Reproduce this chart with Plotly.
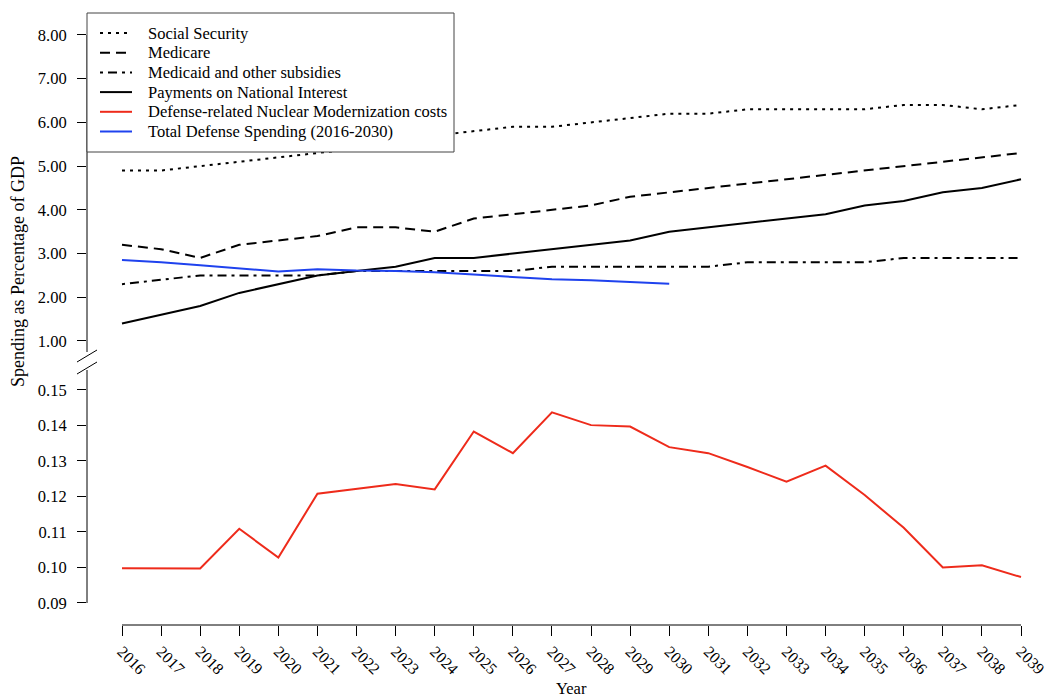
import plotly.graph_objects as go

years = list(range(2016, 2040))
defense_years = list(range(2016, 2031))

social_security = [4.9, 4.9, 5.0, 5.1, 5.2, 5.3, 5.4, 5.5, 5.7, 5.8, 5.9, 5.9,
                   6.0, 6.1, 6.2, 6.2, 6.3, 6.3, 6.3, 6.3, 6.4, 6.4, 6.3, 6.4]
medicare = [3.2, 3.1, 2.9, 3.2, 3.3, 3.4, 3.6, 3.6, 3.5, 3.8, 3.9, 4.0,
            4.1, 4.3, 4.4, 4.5, 4.6, 4.7, 4.8, 4.9, 5.0, 5.1, 5.2, 5.3]
medicaid = [2.3, 2.4, 2.5, 2.5, 2.5, 2.5, 2.6, 2.6, 2.6, 2.6, 2.6, 2.7,
            2.7, 2.7, 2.7, 2.7, 2.8, 2.8, 2.8, 2.8, 2.9, 2.9, 2.9, 2.9]
interest = [1.4, 1.6, 1.8, 2.1, 2.3, 2.5, 2.6, 2.7, 2.9, 2.9, 3.0, 3.1,
            3.2, 3.3, 3.5, 3.6, 3.7, 3.8, 3.9, 4.1, 4.2, 4.4, 4.5, 4.7]
nuclear = [0.0998, 0.0998, 0.0997, 0.1109, 0.1028, 0.1208, 0.1221, 0.1235,
           0.1220, 0.1383, 0.1322, 0.1437, 0.1401, 0.1397, 0.1339, 0.1322,
           0.1283, 0.1242, 0.1287, 0.1204, 0.1112, 0.1000, 0.1006, 0.0973]
total_defense = [2.85, 2.80, 2.73, 2.66, 2.59, 2.64, 2.61, 2.60, 2.57, 2.52,
                 2.47, 2.41, 2.39, 2.35, 2.31]

series_names = ["Social Security", "Medicare", "Medicaid and other subsidies",
                "Payments on National Interest",
                "Defense-related Nuclear Modernization costs",
                "Total Defense Spending (2016-2030)"]

top_ticks = [1, 2, 3, 4, 5, 6, 7, 8]
top_ticktext = ["1.00", "2.00", "3.00", "4.00", "5.00", "6.00", "7.00", "8.00"]
bot_ticks = [0.09, 0.10, 0.11, 0.12, 0.13, 0.14, 0.15]
bot_ticktext = ["0.09", "0.10", "0.11", "0.12", "0.13", "0.14", "0.15"]

FONT = "Liberation Serif, Times New Roman, serif"
RED = "#EE2B1B"
BLUE = "#1F42EE"

# pixel layout helpers
W, H = 1050, 700
L, R, T, B = 87, 0, 13, 75
PW = W - L - R
PH = H - T - B
def px(xp):
    return (xp - L) / PW
def py(yp):
    return (H - B - yp) / PH

top_range = [0.748, 8.503]
bot_range = [0.0838, 0.15563]
top_domain = [py(352), 1.0]
bot_domain = [0.0, py(370)]

lw = 2
styles = [
    dict(color="black", width=lw, dash="3px,5px"),
    dict(color="black", width=lw, dash="10px,6px"),
    dict(color="black", width=lw, dash="3px,5px,9px,5px"),
    dict(color="black", width=lw, dash="solid"),
    dict(color=RED, width=lw, dash="solid"),
    dict(color=BLUE, width=lw, dash="solid"),
]

fig = go.Figure()
fig.add_trace(go.Scatter(x=years, y=social_security, mode="lines", name=series_names[0],
                         line=styles[0], yaxis="y", showlegend=False))
fig.add_trace(go.Scatter(x=years, y=medicare, mode="lines", name=series_names[1],
                         line=styles[1], yaxis="y", showlegend=False))
fig.add_trace(go.Scatter(x=years, y=medicaid, mode="lines", name=series_names[2],
                         line=styles[2], yaxis="y", showlegend=False))
fig.add_trace(go.Scatter(x=years, y=interest, mode="lines", name=series_names[3],
                         line=styles[3], yaxis="y", showlegend=False))
fig.add_trace(go.Scatter(x=years, y=nuclear, mode="lines", name=series_names[4],
                         line=styles[4], yaxis="y2", showlegend=False))
fig.add_trace(go.Scatter(x=defense_years, y=total_defense, mode="lines", name=series_names[5],
                         line=styles[5], yaxis="y", showlegend=False))

x_range = [2016 - 35 / 39.087, 2039 + 29 / 39.087]

fig.update_layout(
    width=W, height=H,
    margin=dict(l=L, r=R, t=T, b=B, pad=0),
    paper_bgcolor="white", plot_bgcolor="white",
    font=dict(family=FONT, size=16, color="black"),
    showlegend=False,
    xaxis=dict(range=x_range, anchor="y2", tickvals=years, ticktext=[str(y) for y in years],
               tickangle=45, ticks="outside", ticklen=10, tickcolor="black",
               showgrid=False, zeroline=False, showline=False,
               tickfont=dict(family=FONT, size=16)),
    yaxis=dict(domain=top_domain, range=top_range, tickvals=top_ticks, ticktext=top_ticktext,
               ticks="outside", ticklen=9, tickcolor="black", showgrid=False, zeroline=False,
               showline=False, anchor="x", ticklabelstandoff=7,
               tickfont=dict(family=FONT, size=16.5)),
    yaxis2=dict(domain=bot_domain, range=bot_range, tickvals=bot_ticks, ticktext=bot_ticktext,
                ticks="outside", ticklen=9, tickcolor="black", showgrid=False, zeroline=False,
                showline=False, anchor="x", ticklabelstandoff=7,
                tickfont=dict(family=FONT, size=16.5)),
)

shapes = [
    # y axis lines
    dict(type="line", xref="paper", yref="y", x0=0, x1=0, y0=top_range[0], y1=8, line=dict(color="black", width=1)),
    dict(type="line", xref="paper", yref="y2", x0=0, x1=0, y0=0.09, y1=bot_range[1], line=dict(color="black", width=1)),
    # x axis line
    dict(type="line", xref="x", yref="paper", x0=2016, x1=2039, y0=0, y1=0, line=dict(color="black", width=1)),
    # break marks
    dict(type="line", xref="paper", yref="paper", x0=px(77), x1=px(97), y0=py(362), y1=py(350), line=dict(color="black", width=1)),
    dict(type="line", xref="paper", yref="paper", x0=px(77), x1=px(97), y0=py(374), y1=py(362), line=dict(color="black", width=1)),
    # legend box
    dict(type="rect", xref="paper", yref="paper", x0=px(87), x1=px(454), y0=py(152), y1=py(13),
         line=dict(color="#444", width=1), fillcolor="white", layer="above"),
]
row_y = [33, 52.7, 72.4, 92.1, 111.8, 131.5]
for name, st, ry in zip(series_names, styles, row_y):
    shapes.append(dict(type="line", xref="paper", yref="paper", x0=px(100), x1=px(132),
                       y0=py(ry), y1=py(ry), line=dict(color=st["color"], width=st["width"], dash=st["dash"]),
                       layer="above"))
    fig.add_annotation(text=name, xref="paper", yref="paper", x=px(146), y=py(ry),
                       showarrow=False, font=dict(family=FONT, size=16.5),
                       xanchor="left", yanchor="middle")
fig.update_layout(shapes=shapes)

fig.add_annotation(text="Year", xref="paper", yref="paper", x=px(571), y=py(688),
                   showarrow=False, font=dict(family=FONT, size=16.5), xanchor="center", yanchor="middle")
fig.add_annotation(text="Spending as Percentage of GDP", xref="paper", yref="paper", x=px(18), y=py(272),
                   showarrow=False, textangle=-90, font=dict(family=FONT, size=18),
                   xanchor="center", yanchor="middle")

fig.write_html("out.html")
